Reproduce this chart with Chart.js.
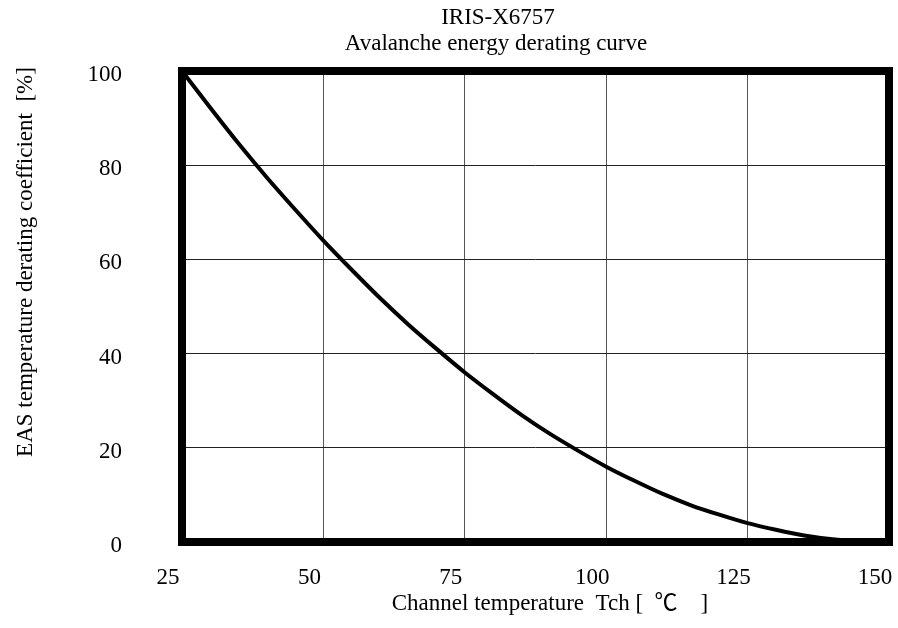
<!DOCTYPE html>
<html>
<head>
<meta charset="utf-8">
<title>Avalanche energy derating curve</title>
<script src="https://cdn.jsdelivr.net/npm/chart.js@4"></script>
<style>
  html, body { margin: 0; padding: 0; background: #fff; }
  #wrap { width: 898px; height: 628px; }
</style>
</head>
<body>
<div id="wrap"><canvas id="derating"></canvas></div>
<script>
// values
const tempC = [25, 30, 35, 40, 45, 50, 55, 60, 65, 70, 75, 80, 85, 90, 95, 100, 105, 110, 115, 120, 125, 130, 135, 140, 145, 150];
const easCoef = [100, 92.2, 84.6, 77.4, 70.6, 64, 57.8, 51.8, 46.2, 41, 36, 31.4, 27, 23, 19.4, 16, 13, 10.2, 7.8, 5.8, 4, 2.6, 1.4, 0.6, 0.2, 0];
const titleLines = ['IRIS-X6757', 'Avalanche energy derating curve'];
const xTitle = 'Channel temperature  Tch [  \u2103    ]';
const yTitle = 'EAS temperature derating coefficient  [%]';

const serif = "'Liberation Serif', 'Noto Sans CJK JP', serif";

// thick frame + titles drawn on top
const frame = {
  id: 'frame',
  afterDatasetsDraw(chart) {
    const { ctx, chartArea: a } = chart;
    ctx.save();
    ctx.strokeStyle = '#000';
    ctx.lineWidth = 8;
    ctx.strokeRect(a.left, a.top, a.right - a.left, a.bottom - a.top);
    ctx.restore();
  },
  afterDraw(chart) {
    const { ctx } = chart;
    ctx.save();
    ctx.fillStyle = '#000';
    ctx.font = '23px ' + serif;
    ctx.textAlign = 'center';
    ctx.textBaseline = 'middle';
    ctx.fillText(titleLines[0], 498, 18);
    ctx.fillText(titleLines[1], 496, 44);
    ctx.fillText(xTitle, 550, 604);
    ctx.translate(26, 262);
    ctx.rotate(-Math.PI / 2);
    ctx.fillText(yTitle, 0, 0);
    ctx.restore();
  }
};

new Chart(document.getElementById('derating'), {
  type: 'line',
  data: {
    labels: tempC,
    datasets: [{
      data: tempC.map((t, i) => ({ x: t, y: easCoef[i] })),
      borderColor: '#000',
      borderWidth: 4,
      pointRadius: 0,
      tension: 0.4,
      cubicInterpolationMode: 'monotone',
      fill: false
    }]
  },
  options: {
    responsive: true,
    maintainAspectRatio: false,
    animation: false,
    layout: { padding: { top: 71, right: 9, left: 0, bottom: 0 } },
    plugins: { legend: { display: false }, tooltip: { enabled: false } },
    scales: {
      x: {
        type: 'linear',
        min: 25, max: 150,
        afterFit: s => { s.height = 86; s.paddingLeft = 0; s.paddingRight = 0; },
        ticks: { stepSize: 25, color: '#000', font: { family: serif, size: 23 }, padding: 22, labelOffset: -14, maxRotation: 0 },
        grid: { color: '#555', lineWidth: 1, drawTicks: false },
        border: { display: false }
      },
      y: {
        min: 0, max: 100,
        afterFit: s => { s.width = 182; s.paddingTop = 0; s.paddingBottom = 0; },
        ticks: { stepSize: 20, color: '#000', font: { family: serif, size: 23 }, padding: 60, labelOffset: 4 },
        grid: { color: '#222', lineWidth: 1, drawTicks: false },
        border: { display: false }
      }
    }
  },
  plugins: [frame]
});
</script>
</body>
</html>
